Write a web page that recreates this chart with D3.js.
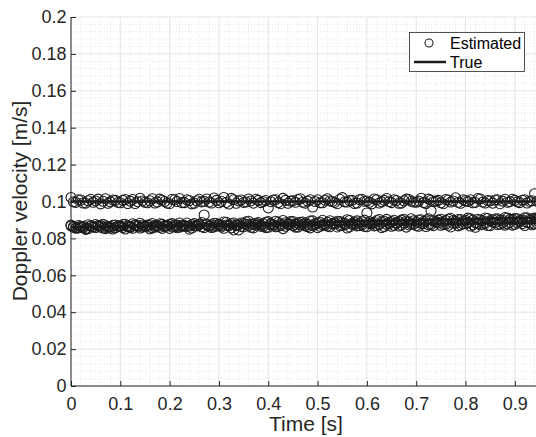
<!DOCTYPE html>
<html>
<head>
<meta charset="utf-8">
<script src="https://cdn.jsdelivr.net/npm/d3@7"></script>
<style>
  html, body { margin: 0; padding: 0; background: #fff; }
  svg { display: block; font-family: "Liberation Sans", Arial, Helvetica, sans-serif; }
</style>
</head>
<body>
<svg id="chart" width="536" height="437"></svg>
<script>
// Sample times (s): frames on the 10 ms grid and the frames halfway between them
const times = d3.range(0, 96).map(i => +(i * 0.01).toFixed(3));
const timesMid = d3.range(0, 95).map(i => +(0.005 + i * 0.01).toFixed(3));

// Estimated Doppler velocities (m/s) for the three targets, on the 10 ms grid
const estA = [
  0.1022, 0.0995, 0.1008, 0.0991, 0.1012, 0.1003, 0.0987, 0.1015, 0.0998, 0.1006,
  0.0993, 0.1011, 0.1002, 0.0989, 0.1018, 0.0996, 0.1004, 0.0992, 0.1013, 0.1000,
  0.0988, 0.1009, 0.1016, 0.0994, 0.1005, 0.0990, 0.1012, 0.1001, 0.0997, 0.1019,
  0.0993, 0.1022, 0.0986, 0.1010, 0.1003, 0.0995, 0.1014, 0.0991, 0.1006, 0.0999,
  0.0965, 0.1008, 0.0994, 0.1017, 0.0990, 0.1004, 0.1011, 0.0996, 0.1002, 0.0970,
  0.1009, 0.0993, 0.1015, 0.1000, 0.0988, 0.1021, 0.0997, 0.1006, 0.0992, 0.1012,
  0.1003, 0.0987, 0.1010, 0.0998, 0.1016, 0.0994, 0.1005, 0.0991, 0.1013, 0.1001,
  0.0996, 0.1018, 0.0989, 0.1007, 0.1002, 0.0993, 0.1011, 0.0997, 0.1020, 0.0990,
  0.1004, 0.1009, 0.0995, 0.1014, 0.0992, 0.1003, 0.1008, 0.0988, 0.1012, 0.0999,
  0.1006, 0.0994, 0.1010, 0.1001, 0.1042, 0.0997
];
const estB = [
  0.0868, 0.0855, 0.0862, 0.0849, 0.0866, 0.0858, 0.0871, 0.0853, 0.0864, 0.0857,
  0.0869, 0.0851, 0.0863, 0.0874, 0.0856, 0.0866, 0.0852, 0.0870, 0.0860, 0.0865,
  0.0854, 0.0873, 0.0861, 0.0867, 0.0850, 0.0869, 0.0876, 0.0858, 0.0866, 0.0862,
  0.0871, 0.0855, 0.0868, 0.0846, 0.0874, 0.0863, 0.0869, 0.0857, 0.0878, 0.0865,
  0.0860, 0.0872, 0.0866, 0.0853, 0.0875, 0.0869, 0.0861, 0.0877, 0.0864, 0.0870,
  0.0858, 0.0873, 0.0867, 0.0880, 0.0862, 0.0871, 0.0856, 0.0876, 0.0868, 0.0874,
  0.0863, 0.0879, 0.0870, 0.0858, 0.0876, 0.0866, 0.0882, 0.0872, 0.0861, 0.0877,
  0.0869, 0.0881, 0.0864, 0.0875, 0.0887, 0.0871, 0.0878, 0.0862, 0.0883, 0.0873,
  0.0879, 0.0867, 0.0884, 0.0874, 0.0881, 0.0869, 0.0886, 0.0877, 0.0872, 0.0885,
  0.0876, 0.0889, 0.0870, 0.0882, 0.0878, 0.0886
];
const estC = [
  0.0872, 0.0858, 0.0866, 0.0853, 0.0869, 0.0875, 0.0861, 0.0868, 0.0856, 0.0873,
  0.0864, 0.0877, 0.0859, 0.0870, 0.0882, 0.0866, 0.0874, 0.0861, 0.0879, 0.0868,
  0.0876, 0.0863, 0.0884, 0.0871, 0.0867, 0.0880, 0.0873, 0.0927, 0.0869, 0.0882,
  0.0877, 0.0889, 0.0872, 0.0884, 0.0846, 0.0881, 0.0893, 0.0876, 0.0886, 0.0879,
  0.0891, 0.0874, 0.0887, 0.0897, 0.0880, 0.0892, 0.0883, 0.0889, 0.0876, 0.0895,
  0.0884, 0.0898, 0.0887, 0.0879, 0.0893, 0.0886, 0.0901, 0.0882, 0.0895, 0.0890,
  0.0938, 0.0884, 0.0897, 0.0889, 0.0903, 0.0892, 0.0885, 0.0899, 0.0894, 0.0906,
  0.0888, 0.0901, 0.0895, 0.0950, 0.0891, 0.0904, 0.0897, 0.0909, 0.0893, 0.0902,
  0.0898, 0.0907, 0.0860, 0.0900, 0.0911, 0.0896, 0.0905, 0.0899, 0.0913, 0.0903,
  0.0908, 0.0897, 0.0912, 0.0904, 0.0910, 0.0915
];

// Estimated Doppler velocities (m/s) at the in-between frames
const estAMid = [
  0.0998, 0.1010, 0.0992, 0.1004, 0.0996, 0.1013, 0.1001, 0.0990, 0.1008, 0.0995,
  0.1006, 0.0989, 0.1011, 0.0999, 0.1003, 0.0993, 0.1015, 0.0997, 0.1007, 0.0991,
  0.1012, 0.1000, 0.0994, 0.1009, 0.0987, 0.1004, 0.0998, 0.1014, 0.0992, 0.1006,
  0.1001, 0.0995, 0.1017, 0.0990, 0.1008, 0.0997, 0.1003, 0.1012, 0.0994, 0.1005,
  0.0999, 0.1010, 0.0988, 0.1006, 0.1002, 0.0996, 0.1015, 0.0991, 0.1009, 0.1000,
  0.0993, 0.1007, 0.1003, 0.0995, 0.1012, 0.0998, 0.1005, 0.0989, 0.1010, 0.1001,
  0.0996, 0.1014, 0.0992, 0.1006, 0.0999, 0.1009, 0.0990, 0.1004, 0.1011, 0.0997,
  0.1002, 0.0994, 0.1013, 0.0999, 0.1006, 0.0988, 0.1008, 0.1003, 0.0995, 0.1010,
  0.1000, 0.0993, 0.1016, 0.0997, 0.1005, 0.0991, 0.1009, 0.1002, 0.0996, 0.1012,
  0.0998, 0.1007, 0.0992, 0.1004, 0.1001
];
const estBMid = [
  0.0860, 0.0857, 0.0866, 0.0853, 0.0863, 0.0869, 0.0856, 0.0864, 0.0851, 0.0867,
  0.0859, 0.0868, 0.0855, 0.0865, 0.0861, 0.0872, 0.0857, 0.0866, 0.0854, 0.0870,
  0.0862, 0.0858, 0.0871, 0.0864, 0.0856, 0.0868, 0.0863, 0.0874, 0.0859, 0.0867,
  0.0862, 0.0873, 0.0857, 0.0869, 0.0865, 0.0876, 0.0860, 0.0871, 0.0866, 0.0858,
  0.0874, 0.0863, 0.0870, 0.0866, 0.0878, 0.0861, 0.0873, 0.0868, 0.0857, 0.0875,
  0.0866, 0.0871, 0.0863, 0.0879, 0.0869, 0.0874, 0.0862, 0.0877, 0.0870, 0.0865,
  0.0880, 0.0868, 0.0875, 0.0864, 0.0879, 0.0871, 0.0867, 0.0883, 0.0873, 0.0878,
  0.0866, 0.0880, 0.0874, 0.0869, 0.0885, 0.0876, 0.0871, 0.0882, 0.0868, 0.0879,
  0.0886, 0.0873, 0.0881, 0.0877, 0.0870, 0.0888, 0.0875, 0.0883, 0.0879, 0.0872,
  0.0884, 0.0880, 0.0887, 0.0874, 0.0883
];
const estCMid = [
  0.0865, 0.0870, 0.0859, 0.0874, 0.0862, 0.0868, 0.0877, 0.0860, 0.0871, 0.0866,
  0.0875, 0.0863, 0.0879, 0.0869, 0.0873, 0.0862, 0.0881, 0.0870, 0.0876, 0.0867,
  0.0880, 0.0872, 0.0866, 0.0883, 0.0875, 0.0870, 0.0886, 0.0878, 0.0873, 0.0881,
  0.0869, 0.0887, 0.0879, 0.0874, 0.0884, 0.0890, 0.0877, 0.0882, 0.0873, 0.0888,
  0.0880, 0.0893, 0.0878, 0.0885, 0.0891, 0.0876, 0.0888, 0.0883, 0.0894, 0.0881,
  0.0887, 0.0879, 0.0896, 0.0885, 0.0891, 0.0882, 0.0897, 0.0888, 0.0884, 0.0899,
  0.0890, 0.0886, 0.0902, 0.0893, 0.0887, 0.0898, 0.0891, 0.0904, 0.0889, 0.0896,
  0.0900, 0.0892, 0.0907, 0.0895, 0.0899, 0.0890, 0.0905, 0.0897, 0.0902, 0.0894,
  0.0910, 0.0899, 0.0904, 0.0896, 0.0908, 0.0901, 0.0906, 0.0898, 0.0911, 0.0903,
  0.0907, 0.0900, 0.0912, 0.0905, 0.0909
];

// True Doppler velocities: start and end of each target's trajectory
const trueTimes = [0, 0.95];
const trueA = [0.1, 0.1];
const trueB = [0.086, 0.0884];
const trueC = [0.086, 0.0914];

// Axis ticks
const xTicks = [0, 0.1, 0.2, 0.3, 0.4, 0.5, 0.6, 0.7, 0.8, 0.9];
const yTicks = [0, 0.02, 0.04, 0.06, 0.08, 0.1, 0.12, 0.14, 0.16, 0.18, 0.2];
const legendLabels = ["Estimated", "True"];

const svg = d3.select("#chart");
const axisColor = "#262626";
const markColor = "#1a1a1a";

const x = d3.scaleLinear().domain([0, 0.95]).range([71, 539.5]);
const y = d3.scaleLinear().domain([0, 0.2]).range([386, 17]);

// Minor grid (dotted)
const xMinor = d3.range(0, 48).map(i => +(i * 0.02).toFixed(3)).filter(v => !xTicks.some(t => Math.abs(t - v) < 1e-9));
const yMinor = d3.range(0, 51).map(i => +(i * 0.004).toFixed(4)).filter(v => !yTicks.some(t => Math.abs(t - v) < 1e-9));

const grid = svg.append("g");
grid.selectAll("line.xminor").data(xMinor).join("line")
  .attr("x1", d => x(d)).attr("x2", d => x(d))
  .attr("y1", y(0)).attr("y2", y(0.2))
  .attr("stroke", "#d4d4d4").attr("stroke-width", 0.6).attr("stroke-dasharray", "1,2");
grid.selectAll("line.yminor").data(yMinor).join("line")
  .attr("y1", d => y(d)).attr("y2", d => y(d))
  .attr("x1", x(0)).attr("x2", x(0.95))
  .attr("stroke", "#d4d4d4").attr("stroke-width", 0.6).attr("stroke-dasharray", "1,2");
// Major grid
grid.selectAll("line.xmajor").data(xTicks).join("line")
  .attr("x1", d => x(d)).attr("x2", d => x(d))
  .attr("y1", y(0)).attr("y2", y(0.2))
  .attr("stroke", "#e3e3e3").attr("stroke-width", 1);
grid.selectAll("line.ymajor").data(yTicks).join("line")
  .attr("y1", d => y(d)).attr("y2", d => y(d))
  .attr("x1", x(0)).attr("x2", x(0.95))
  .attr("stroke", "#e3e3e3").attr("stroke-width", 1);

// Estimated points
const series = [
  [times, estA], [times, estB], [times, estC],
  [timesMid, estAMid], [timesMid, estBMid], [timesMid, estCMid]
];
const pts = svg.append("g");
series.forEach(([ts, vals]) => {
  pts.selectAll(null).data(vals.map((v, i) => [ts[i], v])).join("circle")
    .attr("cx", d => x(d[0])).attr("cy", d => y(d[1]))
    .attr("r", 5)
    .attr("fill", "none").attr("stroke", markColor).attr("stroke-width", 1.05);
});

// True trajectories
const line = d3.line().x(d => x(d[0])).y(d => y(d[1]));
[trueA, trueB, trueC].forEach(vals => {
  svg.append("path")
    .datum(vals.map((v, i) => [trueTimes[i], v]))
    .attr("d", line)
    .attr("fill", "none").attr("stroke", markColor).attr("stroke-width", 2.5);
});

// Axes (ticks pointing inward)
const xAxis = d3.axisBottom(x).tickValues(xTicks).tickSize(-5).tickPadding(11)
  .tickFormat(d => d === 0 ? "0" : d3.format(".1f")(d));
const yAxis = d3.axisLeft(y).tickValues(yTicks).tickSize(-5).tickPadding(4.5)
  .tickFormat(d => d === 0 ? "0" : (Math.abs(d - 0.1) < 1e-9 || Math.abs(d - 0.2) < 1e-9) ? d3.format(".1f")(d) : d3.format(".2f")(d));

const gx = svg.append("g").attr("transform", `translate(0,${y(0)})`).call(xAxis);
const gy = svg.append("g").attr("transform", `translate(${x(0)},0)`).call(yAxis);
[gx, gy].forEach(g => {
  g.select(".domain").attr("stroke", axisColor).attr("stroke-width", 1);
  g.selectAll(".tick line").attr("stroke", axisColor).attr("stroke-width", 1);
  g.selectAll(".tick text").attr("fill", axisColor).attr("font-size", 18)
    .attr("font-family", "Liberation Sans, Arial, sans-serif");
});
gx.select(".domain").attr("d", `M${x(0)},0H${x(0.95)}`);
gy.select(".domain").attr("d", `M0,${y(0)}V${y(0.2)}`);

// Axis titles
svg.append("text").attr("x", 306).attr("y", 431)
  .attr("text-anchor", "middle").attr("font-size", 21).attr("fill", axisColor)
  .text("Time [s]");
svg.append("text").attr("transform", `translate(27,201) rotate(-90)`)
  .attr("text-anchor", "middle").attr("font-size", 21).attr("fill", axisColor)
  .text("Doppler velocity [m/s]");

// Legend
const lg = svg.append("g");
lg.append("rect").attr("x", 409.5).attr("y", 32.5).attr("width", 115).attr("height", 39)
  .attr("fill", "#fff").attr("stroke", axisColor).attr("stroke-width", 0.8);
lg.append("circle").attr("cx", 429).attr("cy", 43).attr("r", 4)
  .attr("fill", "none").attr("stroke", markColor).attr("stroke-width", 1.05);
lg.append("line").attr("x1", 414).attr("x2", 446).attr("y1", 62).attr("y2", 62)
  .attr("stroke", markColor).attr("stroke-width", 2.5);
lg.selectAll("text").data(legendLabels).join("text")
  .attr("x", 450).attr("y", (d, i) => 49 + i * 19)
  .attr("font-size", 16).attr("fill", "#000").text(d => d);
</script>
</body>
</html>
